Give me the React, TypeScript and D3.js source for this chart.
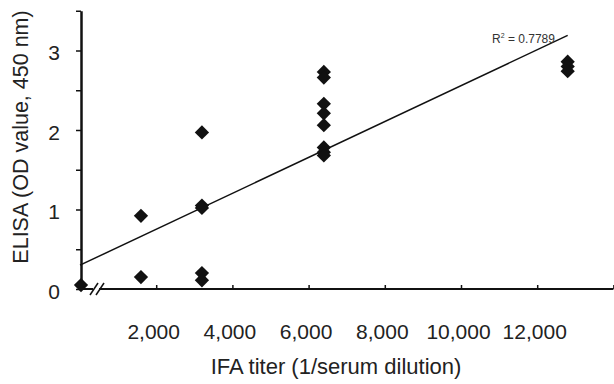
import * as d3 from 'd3';
import { useRef, useEffect } from 'react';

// IFA titer vs ELISA OD readings
const titers = [0, 1600, 1600, 3200, 3200, 3200, 3200, 3200,
  6400, 6400, 6400, 6400, 6400, 6400, 6400, 6400, 12800, 12800, 12800];
const odValues = [0.05, 0.92, 0.15, 1.97, 1.05, 1.02, 0.2, 0.11,
  2.73, 2.66, 2.33, 2.21, 2.06, 1.78, 1.72, 1.68, 2.86, 2.8, 2.74];

// fitted line end points as drawn in the figure
const trendX = [0, 12800];
const trendY = [0.3, 3.19];
const rSquared = '0.7789';

const xTickValues = [2000, 4000, 6000, 8000, 10000, 12000, 14000];
const xTickLabels = ['2,000', '4,000', '6,000', '8,000', '10,000', '12,000', ''];
const yTickValues = [0, 0.5, 1, 1.5, 2, 2.5, 3, 3.5];

const W = 614;
const H = 384;
const FONT = '"Liberation Sans", Arial, sans-serif';

const App = () => {
  const ref = useRef<SVGSVGElement>(null);

  useEffect(() => {
    if (!ref.current) return;
    const svg = d3.select(ref.current);
    svg.selectAll('*').remove();

    const x = d3.scaleLinear().domain([0, 14000]).range([80, 613.4]);
    const y = d3.scaleLinear().domain([0, 3.5]).range([289, 10.75]);

    // y axis, ticks pointing out
    const yAxis = svg.append('g')
      .attr('transform', `translate(${x(0) + 1},0)`)
      .call(d3.axisLeft(y).tickValues(yTickValues).tickSize(5).tickSizeOuter(0)
        .tickFormat((d: any) => (Number.isInteger(d) ? String(d) : '')));
    yAxis.select('.domain').attr('stroke', '#111').attr('stroke-width', 2.5);
    yAxis.selectAll('.tick line').attr('stroke', '#111').attr('stroke-width', 1.5);
    yAxis.selectAll('.tick text')
      .attr('x', -21)
      .attr('dy', '0.45em')
      .style('font-family', FONT).style('font-size', '21px').attr('fill', '#222');

    // x axis, ticks pointing in
    const xAxis = svg.append('g')
      .attr('transform', `translate(0,${y(0)})`)
      .call(d3.axisBottom(x).tickValues(xTickValues).tickSize(-4).tickSizeOuter(0)
        .tickFormat((_d, i) => xTickLabels[i]));
    xAxis.select('.domain')
      .attr('d', `M${x(0) + 1},0H${x(14000)}`)
      .attr('stroke', '#111').attr('stroke-width', 2);
    xAxis.selectAll('.tick line').attr('stroke', '#111').attr('stroke-width', 1.5);
    xAxis.selectAll('.tick text')
      .attr('y', 35)
      .attr('dx', -3)
      .style('font-family', FONT).style('font-size', '21px').attr('fill', '#222');

    // axis break
    const bx = 97;
    const by = y(0);
    svg.append('rect').attr('x', bx - 4).attr('y', by - 3).attr('width', 6).attr('height', 6).attr('fill', '#fff');
    [-4, 2].forEach(off => {
      svg.append('line')
        .attr('x1', bx + off - 3).attr('y1', by + 6)
        .attr('x2', bx + off + 5).attr('y2', by - 6)
        .attr('stroke', '#111').attr('stroke-width', 1.5);
    });

    // trend line
    const line = d3.line<number>()
      .x((_d, i) => x(trendX[i]))
      .y(d => y(d));
    svg.append('path')
      .attr('d', line(trendY))
      .attr('fill', 'none')
      .attr('stroke', '#111')
      .attr('stroke-width', 1.5);

    const r2 = svg.append('text')
      .attr('x', 492).attr('y', 43)
      .style('font-family', FONT).style('font-size', '12px').attr('fill', '#333');
    r2.append('tspan').text('R');
    r2.append('tspan').attr('dy', -5).style('font-size', '7px').text('2');
    r2.append('tspan').attr('dy', 5).text(` = ${rSquared}`);

    // points
    const diamond = d3.symbol().type(d3.symbolDiamond2).size(130);
    svg.append('g').selectAll('path')
      .data(titers)
      .join('path')
      .attr('d', diamond)
      .attr('transform', (d, i) => `translate(${x(d) + (d === 0 ? 1 : 0)},${y(odValues[i])})`)
      .attr('fill', '#111');

    // axis titles
    svg.append('text')
      .attr('x', 336).attr('y', 374)
      .attr('text-anchor', 'middle')
      .style('font-family', FONT).style('font-size', '22px').attr('fill', '#222')
      .text('IFA titer (1/serum dilution)');

    svg.append('text')
      .attr('transform', 'translate(28,137) rotate(-90)')
      .attr('text-anchor', 'middle')
      .style('font-family', FONT).style('font-size', '21.5px').attr('fill', '#222')
      .text('ELISA (OD value, 450 nm)');
  }, []);

  return (
    <svg ref={ref} width={W} height={H}
      style={{ position: 'absolute', left: 0, top: 0, background: '#fff' }} />
  );
};

export default App;
